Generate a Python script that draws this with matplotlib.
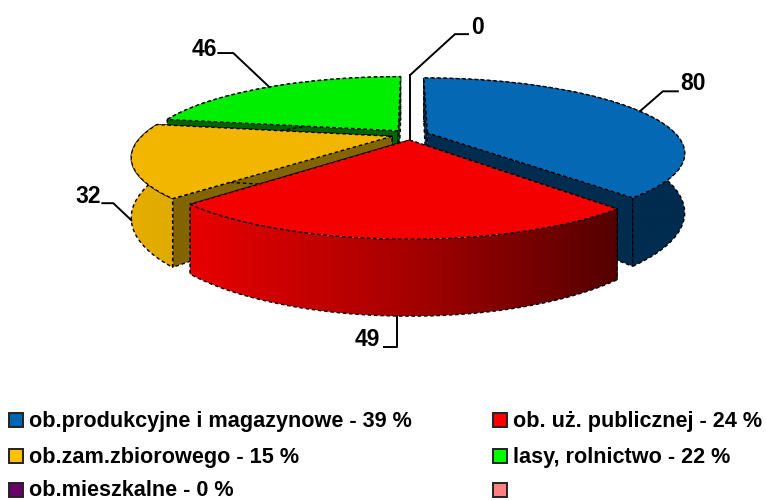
import numpy as np
import matplotlib
matplotlib.use('Agg')
import matplotlib.pyplot as plt
from matplotlib.colors import LinearSegmentedColormap
from matplotlib.patches import Polygon, Rectangle

plt.rcParams['font.family'] = ['Liberation Sans', 'DejaVu Sans']

# Data
slice_values = [80, 49, 32, 46, 0]
slice_labels = ['80', '49', '32', '46', '0']
legend_labels = ['ob.produkcyjne i magazynowe - 39 %', 'ob. uż. publicznej - 24 %',
                 'ob.zam.zbiorowego - 15 %', 'lasy, rolnictwo - 22 %',
                 'ob.mieszkalne - 0 %', '']
legend_colors = ['#0066B4', '#FF0000', '#FFC000', '#00FF00', '#660066', '#FF8080']

top_colors = ['#0468B4', '#F50000', '#F2B600', '#00EE00']
inner_colors = ['#002C50', '#7A0000', '#826400', '#006400']
outer_ramps = [['#002C50', '#002C50'],
               ['#E80000', '#A80000', '#550000'],
               ['#E6AE00', '#E0AA00'],
               ['#006400', '#006400']]

# Projection of the tilted pie, in pixels
cx, cy = 410, 134.7
rx, ry = 249, 70
persp = 0.26
explode = 0.075
height = 55.5


def project(u, v, drop=0.0):
    w = 1 + persp * v
    return cx + rx * u / w, cy - ry * v / w + drop * height / w


fig = plt.figure(figsize=(7.66, 5), dpi=100)
ax = fig.add_axes([0, 0, 1, 1])
ax.set_xlim(0, 766)
ax.set_ylim(500, 0)
ax.axis('off')

edges = np.cumsum([0] + slice_values) / sum(slice_values) * 2 * np.pi
line_style = dict(edgecolor='black', linewidth=1.0, linestyle=(0, (2.5, 2)))


def wedge_points(i):
    bisect = (edges[i] + edges[i + 1]) / 2
    u0, v0 = explode * np.sin(bisect), explode * np.cos(bisect)
    t = np.linspace(edges[i], edges[i + 1], 120)
    return u0, v0, u0 + np.sin(t), v0 + np.cos(t)


def draw_wedge(i):
    u0, v0, u, v = wedge_points(i)
    for k in (0, -1):
        us = np.array([u0, u[k], u[k], u0])
        vs = np.array([v0, v[k], v[k], v0])
        drops = np.array([0, 0, 1, 1])
        x, y = project(us, vs, drops)
        ax.add_patch(Polygon(np.c_[x, y], facecolor=inner_colors[i], zorder=i_order[i], **line_style))
    xt, yt = project(u, v)
    xb, yb = project(u, v, 1)
    wall = Polygon(np.r_[np.c_[xt, yt], np.c_[xb, yb][::-1]], facecolor='none',
                   zorder=i_order[i] + 0.2, **line_style)
    ax.add_patch(wall)
    cmap = LinearSegmentedColormap.from_list('ramp', outer_ramps[i])
    x0, x1 = min(xt.min(), xb.min()), max(xt.max(), xb.max())
    grad = ax.imshow(np.linspace(0, 1, 256)[None, :], cmap=cmap, aspect='auto',
                     extent=(x0, x1, max(yb.max(), yt.max()), min(yt.min(), yb.min())),
                     zorder=i_order[i] + 0.1, interpolation='bilinear')
    grad.set_clip_path(wall)
    xa, ya = project(u0, v0)
    ax.add_patch(Polygon(np.c_[np.r_[xa, xt], np.r_[ya, yt]], facecolor=top_colors[i],
                         zorder=i_order[i] + 0.3, **line_style))


# Back slices first so the front ones cover them
i_order = {3: 2, 0: 3, 2: 4, 1: 5}
for i in i_order:
    draw_wedge(i)
ax.set_xlim(0, 766)
ax.set_ylim(500, 0)

# Leader lines start on the rim of each slice
leader_offsets = [[(23, -20), (38, -20)], [(0, 31), (-13, 31)], [(-18, -17), (-29, -17)],
                  [(-36, -34), (-51, -34)], [(45, -41), (58, -41)]]
text_offsets = [(53, -28), (-29, 23), (-43, -24), (-65, -38), (67, -48)]
for i in range(5):
    if slice_values[i] > 0:
        u0, v0, u, v = wedge_points(i)
        mid = len(u) // 2
        drop = 1 if i in (1, 2) else 0
        ax_x, ax_y = project(u[mid], v[mid], drop)
    else:
        ax_x, ax_y = project(0.0, 1.0)
        ax_y -= 4
        ax.plot([ax_x, ax_x], [ax_y, cy + 8], color='black', lw=1.4, zorder=3)
    path_x = [ax_x] + [ax_x + dx for dx, dy in leader_offsets[i]]
    path_y = [ax_y] + [ax_y + dy for dx, dy in leader_offsets[i]]
    ax.plot(path_x, path_y, color='black', lw=1.4, zorder=8)
    ax.text(ax_x + text_offsets[i][0], ax_y + text_offsets[i][1], slice_labels[i], fontsize=16.5,
            fontweight='bold', ha='center', va='center', zorder=9)

# Legend
legend_x = [9, 493]
legend_y = [420, 456, 490]
for i, (name, color) in enumerate(zip(legend_labels, legend_colors)):
    x = legend_x[i % 2]
    y = legend_y[i // 2]
    ax.add_patch(Rectangle((x, y - 7), 14, 14, facecolor=color, edgecolor='#222222', linewidth=1.4, zorder=5))
    ax.text(x + 20, y + 1, name, fontsize=15.6, fontweight='bold', ha='left', va='center', color='black')

fig.savefig('out.png', dpi=100)
